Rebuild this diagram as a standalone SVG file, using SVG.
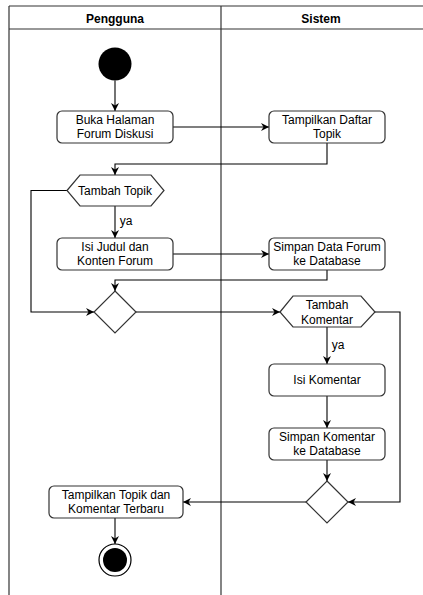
<svg xmlns="http://www.w3.org/2000/svg" width="423" height="595" viewBox="0 0 423 595">
<style>
text{font-family:"Liberation Sans",Arial,sans-serif;font-size:12px;fill:#000;text-anchor:middle}
.hdr{font-weight:bold}
.lane{fill:none;stroke:#333;stroke-width:1.2}
.box{fill:#fff;stroke:#333;stroke-width:1.2}
.conn path{fill:none;stroke:#000;stroke-width:1.1;marker-end:url(#arr)}
</style>
<defs>
<marker id="arr" markerUnits="userSpaceOnUse" markerWidth="9" markerHeight="9" refX="8" refY="4.5" orient="auto">
<path d="M0,0.5 L8,4.5 L0,8.5 L2.5,4.5 Z" fill="#000"/>
</marker>
</defs>
<rect width="423" height="595" fill="#fff"/>
<g id="lanes">
<line class="lane" x1="9" y1="6" x2="423" y2="6"/>
<line class="lane" x1="9" y1="29" x2="423" y2="29"/>
<line class="lane" x1="9" y1="6" x2="9" y2="595"/>
<line class="lane" x1="221" y1="6" x2="221" y2="595"/>
<text class="hdr" x="115" y="23">Pengguna</text>
<text class="hdr" x="321" y="23">Sistem</text>
</g>
<g class="conn" id="connectors">
<path d="M115,80.5 V111"/>
<path d="M173,127 H269"/>
<path d="M327,143 V164 H115 V175"/>
<path d="M115,206 V238"/>
<path d="M173,254 H269"/>
<path d="M327,270 V280 H115 V291"/>
<path d="M67,190.5 H31 V312 H94"/>
<path d="M136,312 H280"/>
<path d="M375,312 H400 V502 H348"/>
<path d="M327,327 V364"/>
<path d="M327,396 V428"/>
<path d="M327,460 V481"/>
<path d="M306,502 H183"/>
<path d="M115,518 V544"/>
<text x="126" y="225">ya</text>
<text x="338" y="349">ya</text>
</g>
<g id="start"><circle cx="115" cy="64" r="16.5" fill="#000"/></g>
<g id="buka"><rect class="box" x="57" y="111" width="116" height="32" rx="5"/><text x="115" y="124">Buka Halaman</text><text x="115" y="138">Forum Diskusi</text></g>
<g id="tampilkanDaftar"><rect class="box" x="269" y="111" width="116" height="32" rx="5"/><text x="327" y="124">Tampilkan Daftar</text><text x="327" y="138">Topik</text></g>
<g id="tambahTopik"><polygon class="box" points="67,190.5 80,175 151,175 164,190.5 151,206 80,206"/><text x="115" y="195">Tambah Topik</text></g>
<g id="isiJudul"><rect class="box" x="57" y="238" width="116" height="32" rx="5"/><text x="115" y="251">Isi Judul dan</text><text x="115" y="265">Konten Forum</text></g>
<g id="simpanForum"><rect class="box" x="269" y="238" width="116" height="32" rx="5"/><text x="327" y="251">Simpan Data Forum</text><text x="327" y="265">ke Database</text></g>
<g id="merge1"><polygon class="box" points="115,291 136,312 115,333 94,312"/></g>
<g id="tambahKomentar"><polygon class="box" points="280,312 293,296 361,296 375,312 361,327 293,327"/><text x="327" y="309">Tambah</text><text x="327" y="324">Komentar</text></g>
<g id="isiKomentar"><rect class="box" x="269" y="364" width="116" height="32" rx="5"/><text x="327" y="384">Isi Komentar</text></g>
<g id="simpanKomentar"><rect class="box" x="269" y="428" width="116" height="32" rx="5"/><text x="327" y="441">Simpan Komentar</text><text x="327" y="455">ke Database</text></g>
<g id="merge2"><polygon class="box" points="327,481 348,502 327,523 306,502"/></g>
<g id="tampilkanTopik"><rect class="box" x="49" y="486" width="134" height="32" rx="5"/><text x="116" y="499">Tampilkan Topik dan</text><text x="116" y="513">Komentar Terbaru</text></g>
<g id="end"><circle cx="115" cy="560" r="16" fill="#fff" stroke="#000" stroke-width="1.2"/><circle cx="115" cy="560" r="12" fill="#000"/></g>
</svg>
